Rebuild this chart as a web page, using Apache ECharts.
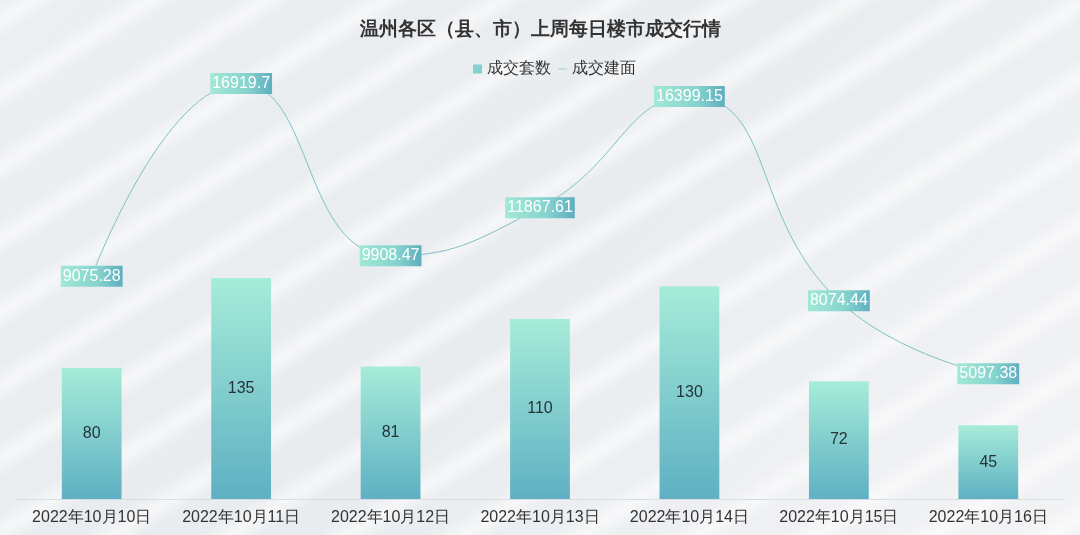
<!DOCTYPE html>
<html>
<head>
<meta charset="utf-8">
<script src="https://cdn.jsdelivr.net/npm/echarts@6/dist/echarts.min.js"></script>
<style>
  html, body { margin: 0; padding: 0; }
  #chart {
    width: 1080px;
    height: 535px;
    background:
      repeating-linear-gradient(-32deg,
        rgba(255,255,255,0) 0px, rgba(255,255,255,0.55) 16px,
        rgba(255,255,255,0) 34px, rgba(255,255,255,0) 62px),
      linear-gradient(135deg, #eceef1 0%, #e9ecef 50%, #f2f3f5 100%);
  }
</style>
</head>
<body>
<div id="chart"></div>
<script>
// data
var days = ["2022年10月10日", "2022年10月11日", "2022年10月12日", "2022年10月13日",
  "2022年10月14日", "2022年10月15日", "2022年10月16日"];
var units = [80, 135, 81, 110, 130, 72, 45];            // 成交套数
var area = [9075.28, 16919.7, 9908.47, 11867.61, 16399.15, 8074.44, 5097.38]; // 成交建面

var barColor = new echarts.graphic.LinearGradient(0, 0, 0, 1, [
  { offset: 0, color: "#a6ecd9" },
  { offset: 1, color: "#5eb0c3" },
]);
var labelBg = new echarts.graphic.LinearGradient(0, 0, 1, 0, [
  { offset: 0, color: "#a2e8d5" },
  { offset: 0.6, color: "#86d3ce" },
  { offset: 1, color: "#5eaebf" },
]);

var option = {
  backgroundColor: "transparent",
  title: {
    text: "温州各区（县、市）上周每日楼市成交行情",
    left: "center",
    top: 15,
    textStyle: { fontSize: 19, fontWeight: "bold", color: "#333" },
  },
  legend: {
    top: 56,
    left: 468,
    itemGap: 7,
    itemWidth: 9,
    itemHeight: 9,
    textStyle: { fontSize: 16, color: "#333" },
    data: [
      { name: "成交套数", icon: "rect", itemStyle: { color: "#84d2cd" } },
      // thin bar as a line icon
      { name: "成交建面", icon: "path://M0,0 H20 V1.5 H0 Z", itemStyle: { color: "#7dc0c6" } },
    ],
  },
  grid: { left: 17, right: 17, top: 8, bottom: 36 },
  xAxis: {
    type: "category",
    data: days,
    axisLine: { lineStyle: { color: "#d9dde2" } },
    axisTick: { lineStyle: { color: "#d9dde2" } },
    axisLabel: { fontSize: 16, color: "#333", margin: 11, interval: 0 },
  },
  yAxis: [
    { type: "value", min: 0, max: 300, show: false, splitLine: { show: false } },
    { type: "value", min: 0, max: 20000, show: false, splitLine: { show: false } },
  ],
  series: [
    {
      name: "成交套数",
      type: "bar",
      data: units,
      barWidth: "40%",
      itemStyle: { color: barColor },
      label: {
        show: true,
        position: "inside",
        fontSize: 16,
        color: "#263338",
      },
    },
    {
      name: "成交建面",
      type: "line",
      yAxisIndex: 1,
      data: area,
      smooth: true,
      symbol: "circle",
      symbolSize: 2,
      itemStyle: { color: "#7dc0c6" },
      lineStyle: { color: "#7dc0c6", width: 1 },
      label: {
        show: true,
        position: "inside",
        fontSize: 16,
        color: "#fff",
        backgroundColor: labelBg,
        padding: [3, 2, 2, 2],
      },
    },
  ],
};

var myChart = echarts.init(document.getElementById("chart"));
myChart.setOption(option);
</script>
</body>
</html>
